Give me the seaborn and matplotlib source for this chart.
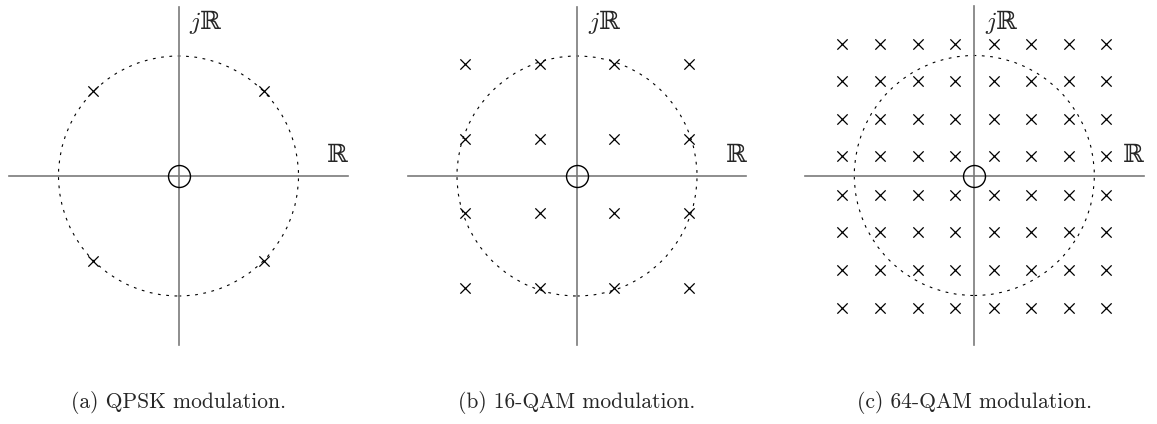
import numpy as np
import pandas as pd
import matplotlib
matplotlib.use("Agg")
import matplotlib.pyplot as plt
from matplotlib.patches import Circle
import seaborn as sns

# Constellation levels (in-phase / quadrature amplitudes, unit-energy circle = 1)
qpsk_levels = [-0.71, 0.71]
qam16_levels = [-0.93, -0.31, 0.31, 0.93]
qam64_levels = [-1.10, -0.79, -0.47, -0.16, 0.16, 0.47, 0.79, 1.10]

captions = ["(a) QPSK modulation.", "(b) 16-QAM modulation.", "(c) 64-QAM modulation."]
imag_label = "$j$\u211d"
real_label = "\u211d"

sns.set_theme(style="white")
plt.rcParams["mathtext.fontset"] = "cm"
plt.rcParams["font.family"] = ["cmr10", "DejaVu Serif"]
plt.rcParams["axes.formatter.use_mathtext"] = True

W, H = 1157, 424
fig = plt.figure(figsize=(W / 100, H / 100), dpi=100)

unit = 120.0          # pixels per unit amplitude
half = 1.5            # half-width of each panel in data units
centers = [(178.5, 176.0), (577.0, 176.0), (974.3, 175.5)]
axis_extent = 1.41

def grid(levels):
    pts = [(i, q) for i in levels for q in levels]
    return pd.DataFrame(pts, columns=["I", "Q"])

frames = [grid(qpsk_levels), grid(qam16_levels), grid(qam64_levels)]

axis_grey = "#7a7a7a"
label_font = ["DejaVu Serif"]

for (cx, cy), df, cap in zip(centers, frames, captions):
    size = 2 * half * unit
    ax = fig.add_axes([(cx - half * unit) / W, (H - cy - half * unit) / H, size / W, size / H])
    ax.set_xlim(-half, half)
    ax.set_ylim(-half, half)
    ax.set_aspect("equal")
    ax.patch.set_alpha(0)

    # Real and imaginary axes drawn as spines through the origin
    for side in ["top", "right"]:
        ax.spines[side].set_visible(False)
    for side in ["left", "bottom"]:
        sp = ax.spines[side]
        sp.set_visible(True)
        sp.set_position(("data", 0))
        sp.set_bounds(-axis_extent, axis_extent)
        sp.set_color(axis_grey)
        sp.set_linewidth(1.2)
    ax.set_xticks([])
    ax.set_yticks([])
    ax.set_xlabel("")
    ax.set_ylabel("")

    # unit circle
    ax.add_patch(Circle((0, 0), 1.0, fill=False, edgecolor="black", lw=0.8,
                        linestyle=(0, (2.5, 5)), zorder=2))

    # constellation points
    sns.scatterplot(data=df, x="I", y="Q", marker="x", s=55, color="black",
                    linewidth=0.9, ax=ax, zorder=3, legend=False)

    # origin marker
    ax.plot([0], [0], marker="o", markersize=15.8, markerfacecolor="none",
            markeredgecolor="black", markeredgewidth=1.0, zorder=4, clip_on=False)

    ax.text(0.09, 1.28, imag_label, fontsize=18, ha="left", va="center",
            family=label_font, math_fontfamily="cm", clip_on=False)
    ax.text(1.41, 0.17, real_label, fontsize=18, ha="right", va="center",
            family=label_font, clip_on=False)

    fig.text(cx / W, 16 / H, cap, fontsize=15.5, ha="center", va="baseline")

fig.savefig("out.png", dpi=100)
